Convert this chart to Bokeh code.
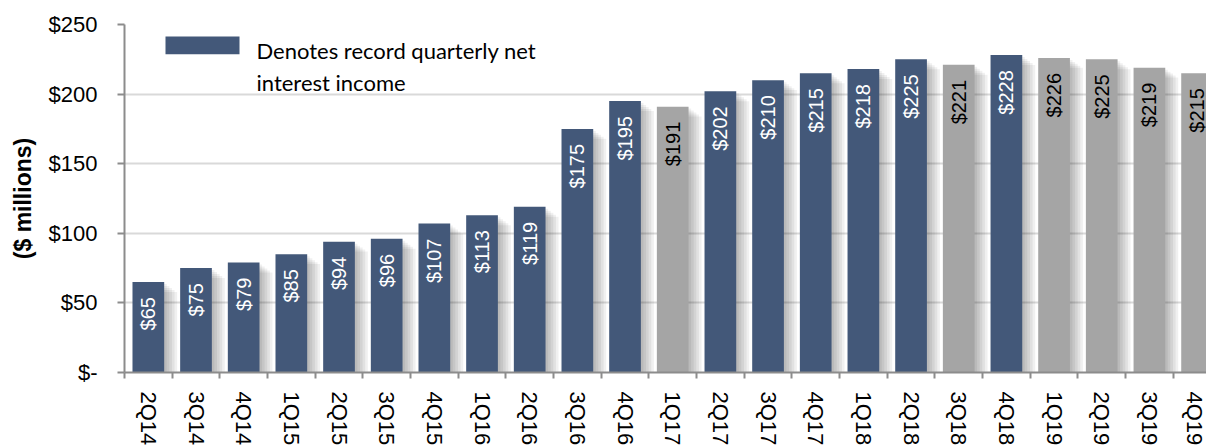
import math
from bokeh.plotting import figure
from bokeh.models import (ColumnDataSource, Range1d, FixedTicker, LabelSet,
                          BoxAnnotation, Label)
from bokeh.core.properties import value
from bokeh.embed import file_html
from bokeh.resources import INLINE

# ---------------- data ----------------
quarters = ["2Q14", "3Q14", "4Q14", "1Q15", "2Q15", "3Q15", "4Q15", "1Q16",
            "2Q16", "3Q16", "4Q16", "1Q17", "2Q17", "3Q17", "4Q17", "1Q18",
            "2Q18", "3Q18", "4Q18", "1Q19", "2Q19", "3Q19", "4Q19"]
net_interest_income = [65, 75, 79, 85, 94, 96, 107, 113, 119, 175, 195, 191,
                       202, 210, 215, 218, 225, 221, 228, 226, 225, 219, 215]
is_record = [True, True, True, True, True, True, True, True, True, True, True,
             False, True, True, True, True, True, False, True, False, False,
             False, False]
y_ticks = [0, 50, 100, 150, 200, 250]
y_tick_labels = ["$-", "$50", "$100", "$150", "$200", "$250"]
legend_text = ["Denotes record quarterly net", "interest income"]

# ---------------- styles ----------------
DARK = "#435879"
GRAY = "#A5A5A5"
AXIS = "#8C8C8C"
GRID = "#D9D9D9"
FONT = "Liberation Sans"

W, H = 1206, 448
FL, FT = 124, 24          # frame left / top on canvas
FW, FH = W - FL, 350      # frame width / height
CAT_PX = 47.67            # pixels per quarter
X0 = 0.5
X1 = X0 + FW / CAT_PX
Y0, Y1 = 0, 250

xs = [i + 1 for i in range(len(quarters))]
colors = [DARK if r else GRAY for r in is_record]
label_colors = ["white" if r else "black" for r in is_record]
labels = ["$%d" % v for v in net_interest_income]

src = ColumnDataSource(dict(x=xs, nii=net_interest_income, color=colors,
                            label=labels, label_color=label_colors))

p = figure(width=W, height=H, output_backend="svg", toolbar_location=None,
           x_range=Range1d(X0, X1), y_range=Range1d(Y0, Y1),
           min_border_left=FL, min_border_top=FT, min_border_right=0,
           min_border_bottom=H - FT - FH)
p.outline_line_color = None
p.background_fill_color = "white"
p.border_fill_color = "white"

# shadows (soft, to the right)
px_x = (X1 - X0) / FW
px_y = (Y1 - Y0) / FH
for k in range(1, 6):
    sh_top = [v - 2 * px_y * k for v in net_interest_income]
    p.vbar(x=[x + 2.6 * k * px_x for x in xs], top=sh_top, width=0.665,
           fill_color="black", fill_alpha=0.06, line_color=None)

# bars
p.vbar(x="x", top="nii", width=0.665, fill_color="color", line_color=None,
       source=src)

# value labels
p.add_layout(LabelSet(x="x", y="nii", text="label", source=src,
                      angle=math.pi / 2, text_align="right",
                      text_baseline="middle", y_offset=-15,
                      text_font=value(FONT), text_font_size=value("20px"),
                      text_color="label_color"))

# axes
p.xgrid.grid_line_color = None
p.ygrid.grid_line_color = GRID
p.ygrid.grid_line_width = 2
p.ygrid.ticker = FixedTicker(ticks=y_ticks)

p.yaxis.ticker = FixedTicker(ticks=y_ticks)
p.yaxis.major_label_overrides = dict(zip(y_ticks, y_tick_labels))
p.yaxis.axis_line_color = AXIS
p.yaxis.axis_line_width = 2
p.yaxis.major_tick_line_color = AXIS
p.yaxis.major_tick_line_width = 2
p.yaxis.major_tick_out = 7
p.yaxis.major_tick_in = 0
p.yaxis.minor_tick_line_color = None
p.yaxis.major_label_text_font = FONT
p.yaxis.major_label_text_font_size = "22px"
p.yaxis.major_label_text_color = "black"
p.yaxis.major_label_standoff = 20
p.yaxis.axis_label = "($ millions)"
p.yaxis.axis_label_text_font = FONT
p.yaxis.axis_label_text_font_size = "23px"
p.yaxis.axis_label_text_font_style = "bold"
p.yaxis.axis_label_text_color = "black"
p.yaxis.axis_label_standoff = 10

p.xaxis.ticker = FixedTicker(ticks=xs, minor_ticks=[x - 0.5 for x in xs] + [xs[-1] + 0.5])
p.xaxis.major_label_overrides = dict(zip(xs, quarters))
p.xaxis.axis_line_color = AXIS
p.xaxis.axis_line_width = 2
p.xaxis.major_tick_line_color = None
p.xaxis.major_tick_out = 0
p.xaxis.major_tick_in = 0
p.xaxis.minor_tick_line_color = AXIS
p.xaxis.minor_tick_line_width = 2
p.xaxis.minor_tick_out = 6
p.xaxis.minor_tick_in = 0
p.xaxis.major_label_orientation = -math.pi / 2
p.xaxis.major_label_text_font = FONT
p.xaxis.major_label_text_font_size = "22px"
p.xaxis.major_label_text_color = "black"
p.xaxis.major_label_standoff = 13


# legend (drawn manually: swatch + two text lines)
def dx(px):
    return X0 + (px - FL) * px_x


def dy(py):
    return Y1 - (py - FT) * px_y


p.add_layout(BoxAnnotation(left=dx(165), right=dx(239), top=dy(36), bottom=dy(54),
                           fill_color=DARK, fill_alpha=1, line_color=None))
for i, t in enumerate(legend_text):
    p.add_layout(Label(x=dx(256), y=dy(50 + 32 * i), text=t,
                       text_font="Lato", text_font_size="22px",
                       text_color="black", text_baseline="alphabetic"))

open("out.html", "w").write(file_html(p, INLINE))
